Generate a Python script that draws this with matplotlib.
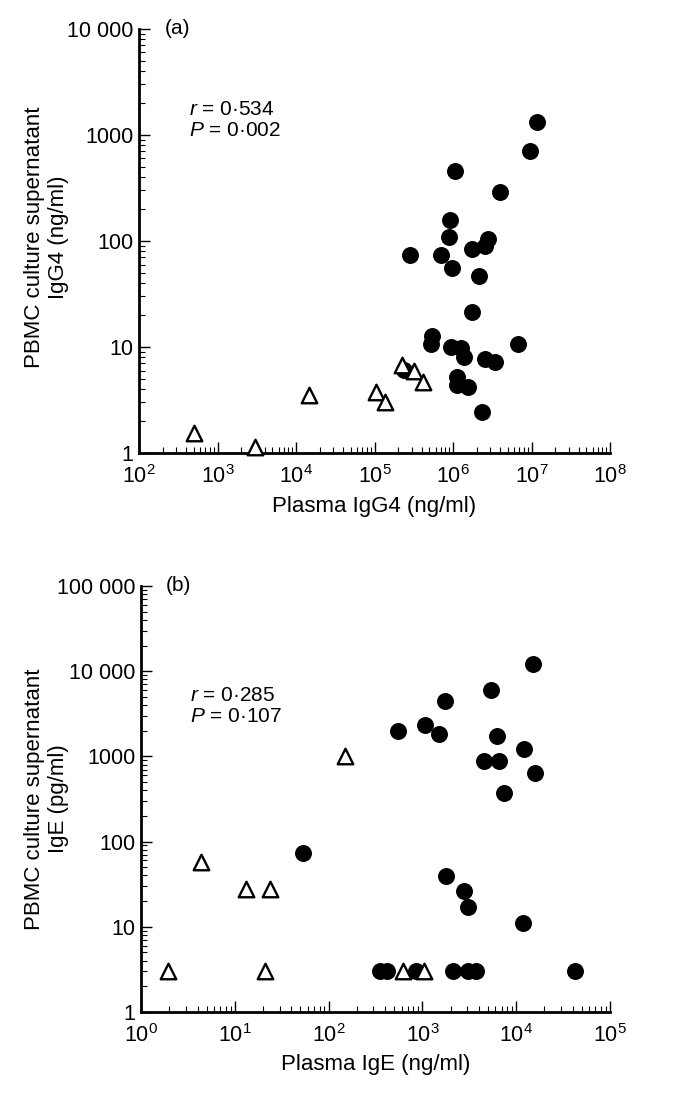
import matplotlib
matplotlib.use('Agg')
import matplotlib.pyplot as plt
from matplotlib.ticker import LogLocator, FuncFormatter, NullFormatter

plt.rcParams['font.family'] = ['Liberation Sans', 'DejaVu Sans']
plt.rcParams['mathtext.fontset'] = 'custom'
plt.rcParams['mathtext.rm'] = 'Liberation Sans'
plt.rcParams['mathtext.it'] = 'Liberation Sans:italic'

# Panel (a): IgG4
igg4_pos_x = [1.19e7, 9.5e6, 1.06e6, 3.97e6, 9.2e5, 9.0e5, 2.8e6, 2.56e6, 1.73e6, 2.83e5,
              7.0e5, 9.6e5, 2.14e6, 1.73e6, 5.45e5, 5.3e5, 6.67e6, 9.35e5, 1.25e6, 1.38e6,
              2.58e6, 3.43e6, 2.4e5, 1.13e6, 1.11e6, 1.57e6, 2.36e6]
igg4_pos_y = [1320, 711, 456, 292, 157, 108, 104, 89, 84, 73,
              73, 56, 47, 21.3, 12.7, 10.6, 10.7, 9.9, 9.7, 8.1,
              7.65, 7.2, 6.1, 5.2, 4.4, 4.2, 2.44]
igg4_neg_x = [2.22e5, 3.18e5, 4.15e5, 1.04e5, 1.35e5, 1.47e4, 500, 3000]
igg4_neg_y = [6.8, 5.9, 4.7, 3.8, 3.03, 3.5, 1.56, 1.13]

# Panel (b): IgE
ige_pos_x = [15200, 5330, 1740, 1060, 550, 1520, 6190, 12200, 4500, 6500,
             16000, 7470, 52.7, 1790, 2770, 3060, 11900,
             357, 420, 863, 2100, 3090, 3700, 42600]
ige_pos_y = [12000, 6050, 4500, 2310, 1980, 1810, 1720, 1210, 873, 887,
             641, 373, 72.6, 39.4, 26.2, 17.2, 11.0,
             3, 3, 3, 3, 3, 3, 3]
ige_neg_x = [149, 4.4, 13, 23.5, 1.92, 21.1, 621, 1030]
ige_neg_y = [1000, 58, 28, 28, 3, 3, 3, 3]


def yfmt(v, pos):
    if v >= 10000:
        return f'{int(round(v)):,}'.replace(',', ' ')
    return f'{int(round(v))}'


def style(ax, xlim, ylim):
    ax.set_xscale('log')
    ax.set_yscale('log')
    ax.set_xlim(*xlim)
    ax.set_ylim(*ylim)
    for s in ['top', 'right']:
        ax.spines[s].set_visible(False)
    for s in ['left', 'bottom']:
        ax.spines[s].set_linewidth(2)
    ax.xaxis.set_major_locator(LogLocator(base=10, numticks=20))
    ax.xaxis.set_minor_locator(LogLocator(base=10, subs=range(2, 10), numticks=20))
    ax.yaxis.set_major_locator(LogLocator(base=10, numticks=20))
    ax.yaxis.set_minor_locator(LogLocator(base=10, subs=range(2, 10), numticks=20))
    ax.yaxis.set_major_formatter(FuncFormatter(yfmt))
    ax.yaxis.set_minor_formatter(NullFormatter())
    ax.xaxis.set_minor_formatter(NullFormatter())
    ax.tick_params(which='major', direction='in', length=8, width=1, labelsize=15.5)
    ax.tick_params(which='minor', direction='in', length=4.5, width=0.8)
    ax.tick_params(axis='y', which='major', pad=4)
    ax.tick_params(axis='x', which='major', pad=8.5)


fig = plt.figure(figsize=(6.91, 11.05), dpi=100)

ax1 = fig.add_axes([0.2012, 0.5900, 0.6816, 0.3838])
ax1.scatter(igg4_pos_x, igg4_pos_y, s=125, c='black', marker='o', zorder=3, clip_on=False)
ax1.scatter(igg4_neg_x, igg4_neg_y, s=125, facecolors='white', edgecolors='black',
            marker='^', linewidths=1.7, zorder=4, clip_on=False)
style(ax1, (1e2, 1e8), (1, 1e4))
ax1.set_xlabel('Plasma IgG4 (ng/ml)', fontsize=16)
ax1.set_ylabel('PBMC culture supernatant\nIgG4 (ng/ml)', fontsize=16, linespacing=1.2)
ax1.xaxis.set_label_coords(0.5, -0.101)
ax1.yaxis.set_label_coords(-0.148, 0.51)
ax1.text(0.055, 1.0, '(a)', transform=ax1.transAxes, fontsize=15, va='center', ha='left')
ax1.text(0.106, 0.785, '$r$ = 0·534\n$P$ = 0·002', transform=ax1.transAxes,
         fontsize=15, va='center', ha='left', linespacing=1.1)

ax2 = fig.add_axes([0.2041, 0.0842, 0.6787, 0.3855])
ax2.scatter(ige_pos_x, ige_pos_y, s=125, c='black', marker='o', zorder=3, clip_on=False)
ax2.scatter(ige_neg_x, ige_neg_y, s=125, facecolors='white', edgecolors='black',
            marker='^', linewidths=1.7, zorder=4, clip_on=False)
style(ax2, (1, 1e5), (1, 1e5))
ax2.set_xlabel('Plasma IgE (ng/ml)', fontsize=16)
ax2.set_ylabel('PBMC culture supernatant\nIgE (pg/ml)', fontsize=16, linespacing=1.2)
ax2.xaxis.set_label_coords(0.5, -0.098)
ax2.yaxis.set_label_coords(-0.153, 0.5)
ax2.text(0.052, 1.0, '(b)', transform=ax2.transAxes, fontsize=15, va='center', ha='left')
ax2.text(0.104, 0.718, '$r$ = 0·285\n$P$ = 0·107', transform=ax2.transAxes,
         fontsize=15, va='center', ha='left', linespacing=1.1)

fig.savefig('out.png', dpi=100)
